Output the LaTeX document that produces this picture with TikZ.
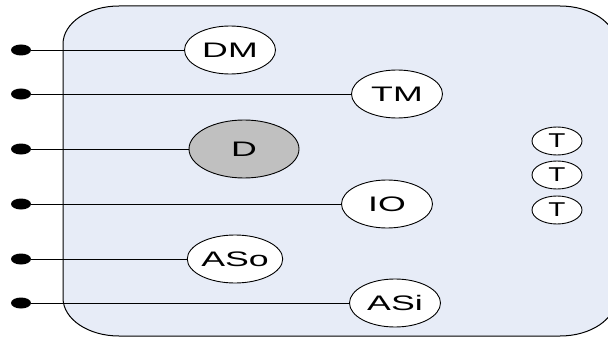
\documentclass[tikz,border=0pt]{standalone}
\usepackage{fontspec}
\setmainfont{Liberation Sans}
\usetikzlibrary{shapes.geometric}
\definecolor{panel}{HTML}{E7ECF7}
\definecolor{grayfill}{HTML}{C0C0C0}
\newcommand{\stretchtxt}[2][1.7]{\scalebox{#1}[1]{#2}}
\begin{document}
\begin{tikzpicture}[x=1pt,y=-1pt,
  oval/.style={ellipse,draw=black,line width=0.9pt,fill=white,inner sep=0pt,
    minimum width=91pt,minimum height=48pt,font=\fontsize{21}{24}\selectfont},
  toval/.style={oval,minimum width=50pt,minimum height=28pt,font=\fontsize{20}{22}\selectfont},
  pin/.style={ellipse,fill=black,inner sep=0pt,minimum width=20pt,minimum height=11pt},
  wire/.style={line width=0.9pt}]
\useasboundingbox (0,0) rectangle (608,337);
\begin{scope}
\clip (0,0) rectangle (608,337);
\draw[fill=panel,line width=1pt] (63,44) arc[start angle=180,end angle=270,x radius=56,y radius=38]
  -- (560,6) arc[start angle=270,end angle=360,x radius=56,y radius=38]
  -- (616,298) arc[start angle=0,end angle=90,x radius=56,y radius=38]
  -- (119,336) arc[start angle=90,end angle=180,x radius=56,y radius=38] -- cycle;
\end{scope}
\node[oval] (dm) at (230,50) {\stretchtxt{DM}};
\node[oval] (tm) at (397,94) {\stretchtxt{TM}};
\node[oval,fill=grayfill,minimum width=110pt,minimum height=58pt] (d) at (244,149) {\stretchtxt{D}};
\node[oval] (io) at (387,204) {\stretchtxt{IO}};
\node[oval] (aso) at (235,259) {\stretchtxt{ASo}};
\node[oval] (asi) at (395,303) {\stretchtxt{ASi}};
\node[toval] (t1) at (557,141) {\stretchtxt[1.4]{T}};
\node[toval] (t2) at (557,175) {\stretchtxt[1.4]{T}};
\node[toval] (t3) at (557,210) {\stretchtxt[1.4]{T}};
\node[pin] (p1) at (21,50) {};
\node[pin] (p2) at (21,94) {};
\node[pin] (p3) at (21,149) {};
\node[pin] (p4) at (21,204) {};
\node[pin] (p5) at (21,259) {};
\node[pin] (p6) at (21,303) {};
\draw[wire] (p1) -- (dm);
\draw[wire] (p2) -- (tm);
\draw[wire] (p3) -- (d);
\draw[wire] (p4) -- (io);
\draw[wire] (p5) -- (aso);
\draw[wire] (p6) -- (asi);
\end{tikzpicture}
\end{document}
